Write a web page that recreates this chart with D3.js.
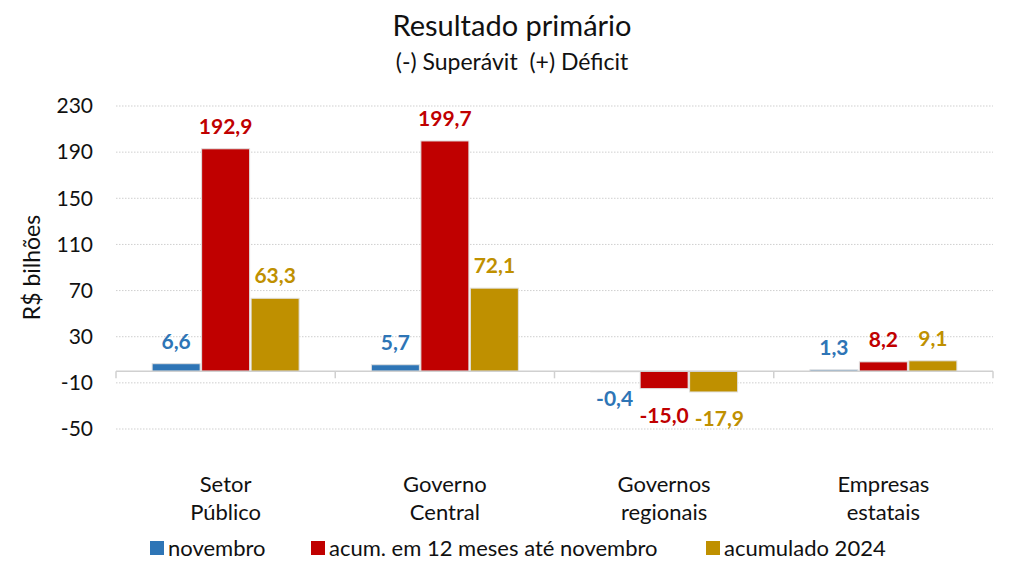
<!doctype html>
<html>
<head>
<meta charset="utf-8">
<script src="https://d3js.org/d3.v7.min.js"></script>
<style>
  body { margin: 0; background: #fff; }
  text { font-family: Lato, "Open Sans", sans-serif; white-space: pre; }
</style>
</head>
<body>
<svg id="chart" width="1024" height="585"></svg>
<script>
const categories = [['Setor', 'Público'], ['Governo', 'Central'], ['Governos', 'regionais'], ['Empresas', 'estatais']]
const seriesNames = ['novembro', 'acum. em 12 meses até novembro', 'acumulado 2024']
const novembro = [6.6, 5.7, -0.4, 1.3]
const acum12 = [192.9, 199.7, -15.0, 8.2]
const acum2024 = [63.3, 72.1, -17.9, 9.1]
const yTicks = [230, 190, 150, 110, 70, 30, -10, -50]
const colors = ['#2E75B6', '#C00000', '#BF9000']

const series = [novembro, acum12, acum2024]
const svg = d3.select('#chart')
const margin = { top: 106, right: 31, bottom: 156, left: 116 }
const width = 1024 - margin.left - margin.right
const height = 585 - margin.top - margin.bottom
const g = svg.append('g').attr('transform', `translate(${margin.left},${margin.top})`)

const x0 = d3.scaleBand().domain(d3.range(categories.length)).range([0, width])
const x1 = d3.scaleBand().domain(d3.range(series.length)).range([0, x0.bandwidth()]).paddingInner(0.03).paddingOuter(0.73)
const y = d3.scaleLinear().domain([-50, 230]).range([height, 0])

// dotted gridlines
g.selectAll('.grid').data(yTicks).join('line')
  .attr('x1', 0).attr('x2', width)
  .attr('y1', d => y(d)).attr('y2', d => y(d))
  .attr('stroke', '#cfcfcf').attr('stroke-dasharray', '1.5,1.5')

// y tick labels
g.selectAll('.ytick').data(yTicks).join('text')
  .attr('x', -23).attr('y', d => y(d)).attr('dy', '0.35em')
  .attr('text-anchor', 'end').attr('font-size', 21).attr('fill', '#111')
  .text(d => d)

svg.append('text')
  .attr('transform', `translate(40,${margin.top + y(90)}) rotate(-90)`)
  .attr('text-anchor', 'middle').attr('font-size', 23).attr('fill', '#111')
  .text('R$ bilhões')

// bars
const groups = g.selectAll('.grp').data(categories).join('g')
  .attr('transform', (d, i) => `translate(${x0(i)},0)`)

series.forEach((vals, s) => {
  groups.append('rect')
    .attr('x', x1(s))
    .attr('width', x1.bandwidth())
    .attr('y', (d, i) => y(Math.max(0, vals[i])))
    .attr('height', (d, i) => Math.abs(y(vals[i]) - y(0)))
    .attr('fill', colors[s])
    .attr('stroke', '#e0e0e0').attr('stroke-width', 1)
})

series.forEach((vals, s) => {
  groups.append('text')
    .attr('class', 'vlabel')
    .attr('x', x1(s) + x1.bandwidth() / 2)
    .attr('y', (d, i) => vals[i] >= 0 ? y(vals[i]) - 15 : y(vals[i]) + 34)
    .attr('text-anchor', 'middle').attr('font-size', 21).attr('font-weight', 'bold')
    .attr('fill', colors[s])
    .text((d, i) => d3.format('.1f')(vals[i]).replace('.', ',').replace('−', '-'))
})

// nudge value labels that collide with the one on their left
groups.each(function () {
  const labels = d3.select(this).selectAll('.vlabel').nodes()
  for (let k = 1; k < labels.length; k++) {
    const a = labels[k - 1].getBBox()
    const b = labels[k].getBBox()
    const overlapX = a.x + a.width + 6 - b.x
    const overlapY = Math.min(a.y + a.height, b.y + b.height) - Math.max(a.y, b.y)
    if (overlapX > 0 && overlapY > 0) {
      labels[k].setAttribute('x', +labels[k].getAttribute('x') + overlapX)
    }
  }
})

// zero axis with category separators
g.append('line').attr('x1', 0).attr('x2', width).attr('y1', y(0)).attr('y2', y(0))
  .attr('stroke', '#d0d0d0').attr('stroke-width', 1.5)
g.selectAll('.sep').data(d3.range(categories.length + 1)).join('line')
  .attr('x1', d => d * x0.bandwidth()).attr('x2', d => d * x0.bandwidth())
  .attr('y1', y(0)).attr('y2', y(0) + 7)
  .attr('stroke', '#d0d0d0').attr('stroke-width', 1.5)

// category labels
categories.forEach((c, i) => {
  c.forEach((line, j) => {
    g.append('text')
      .attr('x', x0(i) + x0.bandwidth() / 2)
      .attr('y', height + 63 + j * 28)
      .attr('text-anchor', 'middle').attr('font-size', 22).attr('fill', '#111')
      .text(line)
  })
})

// title
svg.append('text').attr('x', 512).attr('y', 36).attr('text-anchor', 'middle')
  .attr('font-size', 29).attr('fill', '#111').text('Resultado primário')
svg.append('text').attr('x', 512).attr('y', 70).attr('text-anchor', 'middle')
  .attr('font-size', 23).attr('fill', '#111').text('(-) Superávit  (+) Déficit')

// legend
const legendX = [150, 311, 706]
const legend = svg.selectAll('.leg').data(seriesNames).join('g')
  .attr('transform', (d, i) => `translate(${legendX[i]},548)`)
legend.append('rect').attr('x', 0).attr('y', -7).attr('width', 14).attr('height', 14)
  .attr('fill', (d, i) => colors[i])
legend.append('text').attr('x', 18).attr('dy', '0.35em').attr('font-size', 22).attr('fill', '#111')
  .text(d => d)
</script>
</body>
</html>
